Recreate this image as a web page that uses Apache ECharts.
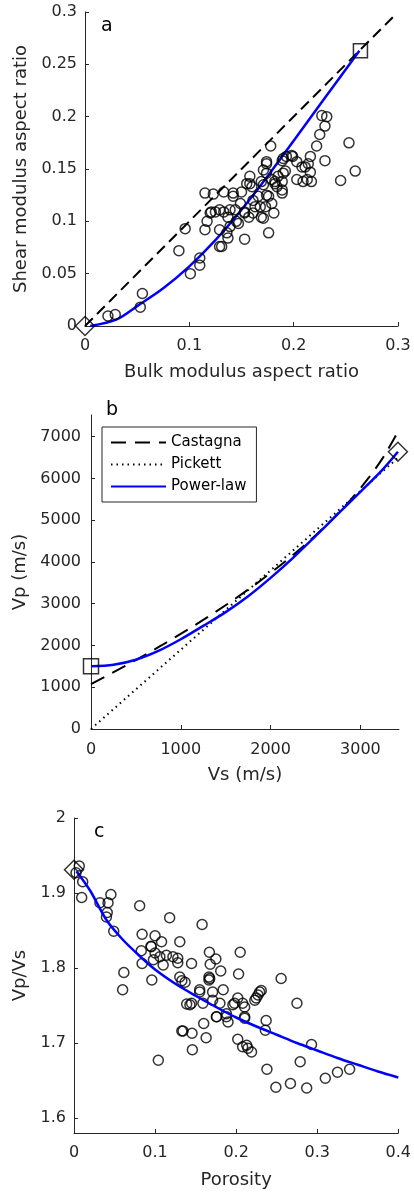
<!DOCTYPE html>
<html><head><meta charset="utf-8">
<script src="https://cdn.jsdelivr.net/npm/echarts@6/dist/echarts.min.js"></script>
<style>html,body{margin:0;padding:0;background:#fff}#c{width:414px;height:1195px}</style>
</head><body><div id="c"></div>
<script>
// ---------- Panel a data ----------
const aPoints = [
[0.2317,0.200],[0.227,0.201],[0.230,0.191],[0.225,0.183],[0.222,0.172],[0.230,0.158],[0.253,0.175],[0.259,0.148],[0.245,0.139],[0.178,0.172],
[0.199,0.162],[0.193,0.162],[0.189,0.158],[0.216,0.162],[0.214,0.155],[0.208,0.152],[0.216,0.147],[0.217,0.138],[0.209,0.138],[0.203,0.140],[0.213,0.140],
[0.174,0.155],[0.171,0.149],[0.174,0.146],[0.190,0.146],[0.189,0.138],[0.182,0.138],[0.158,0.143],[0.158,0.136],[0.142,0.127],[0.133,0.128],[0.115,0.127],[0.123,0.126],
[0.155,0.136],[0.184,0.133],[0.189,0.127],[0.149,0.117],[0.139,0.111],[0.133,0.109],[0.125,0.109],[0.120,0.108],[0.145,0.100],[0.117,0.100],[0.115,0.092],[0.129,0.092],
[0.139,0.095],[0.137,0.084],[0.153,0.083],[0.176,0.089],[0.129,0.076],[0.096,0.093],[0.090,0.072],[0.110,0.065],[0.110,0.058],[0.101,0.050],[0.055,0.031],[0.053,0.018],
[0.029,0.011],[0.022,0.0095],[0.161,0.120],[0.168,0.114],[0.174,0.125],[0.179,0.117],[0.171,0.103],[0.153,0.108],[0.161,0.108],[0.189,0.130],[0.181,0.108],[0.171,0.135],
[0.174,0.157],[0.198,0.163],[0.190,0.160],[0.203,0.157],[0.211,0.152],[0.192,0.148],[0.185,0.143],[0.182,0.136],[0.179,0.140],[0.169,0.138],[0.160,0.133],[0.142,0.124],
[0.150,0.128],[0.166,0.124],[0.176,0.124],[0.173,0.114],[0.163,0.114],[0.153,0.109],[0.144,0.111],[0.137,0.104],[0.169,0.104],[0.157,0.104],[0.147,0.098],[0.136,0.089],
[0.121,0.109],[0.129,0.111],[0.131,0.076]
];
const aDashed = [[0,0],[0.296,0.296]];
const aPowerLaw = [[0.005,0.0],[0.03,0.006],[0.05,0.019],[0.075,0.036],[0.1,0.057],[0.125,0.082],[0.15,0.111],[0.175,0.143],[0.2,0.177],[0.23,0.218],[0.263,0.263]];
const aSquare = [[0.264,0.263]];
const aDiamond = [[0,0]];
const aXTicks = [0,0.1,0.2,0.3];
const aYTicks = [0,0.05,0.1,0.15,0.2,0.25,0.3];

// ---------- Panel b data ----------
const bCastagna = [[0,1076],[371,1500],[783,2000],[1167,2500],[1524,3000],[1854,3500],[2155,4000],[2430,4500],[2677,5000],[2896,5500],[3087,6000],[3252,6500],[3388,7000],[3435,7200]];
const bPickett = [[0,0],[3430,6517]];
const bPowerLaw = [[0,1500],[250,1540],[500,1660],[750,1870],[1000,2150],[1250,2470],[1500,2800],[1750,3180],[2000,3620],[2250,4100],[2500,4620],[2750,5150],[3000,5680],[3250,6220],[3418,6640]];
const bSquare = [[0,1500]];
const bDiamond = [[3418,6640]];
const bXTicks = [0,1000,2000,3000];
const bYTicks = [0,1000,2000,3000,4000,5000,6000,7000];

// ---------- Panel c data ----------
const cPoints = [
[0.0065,1.936],[0.0025,1.927],[0.0107,1.915],[0.0095,1.894],[0.032,1.887],[0.0455,1.898],[0.042,1.887],[0.041,1.874],[0.040,1.868],[0.049,1.849],[0.081,1.883],
[0.118,1.867],[0.158,1.858],[0.084,1.845],[0.100,1.843],[0.108,1.835],[0.1305,1.835],[0.095,1.829],[0.083,1.823],[0.100,1.820],[0.106,1.815],[0.114,1.817],[0.122,1.815],
[0.128,1.813],[0.098,1.811],[0.110,1.804],[0.128,1.807],[0.145,1.806],[0.084,1.806],[0.167,1.821],[0.175,1.812],[0.168,1.805],[0.181,1.796],[0.205,1.821],[0.203,1.792],
[0.2555,1.786],[0.0615,1.794],[0.1305,1.788],[0.096,1.784],[0.133,1.783],[0.137,1.781],[0.1665,1.788],[0.1665,1.784],[0.231,1.770],[0.060,1.771],[0.104,1.677],
[0.133,1.716],[0.1456,1.713],[0.146,1.691],[0.163,1.707],[0.160,1.726],[0.176,1.735],[0.190,1.728],[0.202,1.705],[0.208,1.695],[0.2145,1.693],[0.219,1.688],[0.213,1.697],
[0.237,1.730],[0.236,1.717],[0.238,1.665],[0.249,1.641],[0.267,1.646],[0.287,1.640],[0.279,1.675],[0.293,1.698],[0.275,1.753],[0.310,1.653],[0.325,1.661],[0.340,1.665],
[0.143,1.751],[0.145,1.753],[0.139,1.752],[0.159,1.753],[0.171,1.757],[0.180,1.753],[0.196,1.751],[0.202,1.760],[0.2105,1.748],[0.208,1.753],[0.223,1.757],[0.227,1.764],
[0.155,1.768],[0.171,1.768],[0.2105,1.735],[0.188,1.735],[0.1674,1.786],[0.155,1.771],[0.184,1.771],[0.229,1.768],[0.2248,1.760],[0.198,1.753],[0.188,1.739],[0.2105,1.733],
[0.1756,1.735],[0.1345,1.716],[0.0953,1.8285]
];
const cPowerLaw = [[0.003,1.929],[0.02,1.903],[0.04,1.864],[0.06,1.838],[0.08,1.817],[0.1,1.798],[0.125,1.779],[0.15,1.763],[0.175,1.748],[0.2,1.734],[0.225,1.722],[0.25,1.711],[0.275,1.700],[0.3,1.690],[0.325,1.680],[0.35,1.671],[0.375,1.662],[0.4,1.654]];
const cDiamond = [[0,1.931]];
const cXTicks = [0,0.1,0.2,0.3,0.4];
const cYTicks = [1.6,1.7,1.8,1.9,2];

// ---------- styling ----------
const FONT = 'DejaVu Sans';
const AX = '#262626';
function fmt(v){ return String(+(+v).toFixed(3)); }
function axis(o){
  return Object.assign({
    type:'value', scale:false,
    axisLine:{show:true, onZero:false, lineStyle:{color:AX, width:1}},
    axisTick:{show:true, inside:true, length:4, lineStyle:{color:AX, width:1}, customValues:o.ticks},
    axisLabel:{color:AX, fontSize:16, fontFamily:FONT, formatter:fmt, customValues:o.ticks, margin:o.lm},
    splitLine:{show:false},
    nameLocation:'middle',
    nameTextStyle:{color:AX, fontSize:18, fontFamily:FONT}
  }, o.extra);
}
function scatter(data, xi, symbol, size, z){
  return {type:'scatter', xAxisIndex:xi, yAxisIndex:xi, data:data, symbol:symbol, symbolSize:size,
    itemStyle:{color:'rgba(0,0,0,0)', borderColor:'#000', borderWidth:1.5}, clip:false, z:z||3, silent:true};
}
function line(name, data, xi, color, width, type, z){
  return {type:'line', name:name, xAxisIndex:xi, yAxisIndex:xi, data:data, symbol:'none', smooth:data.length>2?0.3:false,
    lineStyle:{color:color, width:width, type:type}, itemStyle:{color:color}, z:z||2, silent:true};
}

const chart = echarts.init(document.getElementById('c'), null, {renderer:'canvas'});
chart.setOption({
  animation:false,
  backgroundColor:'#fff',
  grid:[
    {left:85, top:12, width:313, height:314},
    {left:91, top:415, width:308, height:314},
    {left:74, top:818, width:325, height:315}
  ],
  xAxis:[
    axis({ticks:aXTicks, lm:12, extra:{gridIndex:0, min:0, max:0.3, name:'Bulk modulus aspect ratio', nameGap:37}}),
    axis({ticks:bXTicks, lm:13, extra:{gridIndex:1, min:0, max:3430, name:'Vs (m/s)', nameGap:37}}),
    axis({ticks:cXTicks, lm:12, extra:{gridIndex:2, min:0, max:0.4, name:'Porosity', nameGap:38}})
  ],
  yAxis:[
    axis({ticks:aYTicks, lm:8, extra:{gridIndex:0, min:0, max:0.3, name:'Shear modulus aspect ratio', nameGap:54}}),
    axis({ticks:bYTicks, lm:10, extra:{gridIndex:1, min:0, max:7520, name:'Vp (m/s)', nameGap:60}}),
    axis({ticks:cYTicks, lm:8, extra:{gridIndex:2, min:1.58, max:2, name:'Vp/Vs', nameGap:43}})
  ],
  legend:{
    data:['Castagna','Pickett','Power-law'],
    orient:'vertical', left:102, top:427,
    itemWidth:55, itemHeight:14, itemGap:7,
    padding:[8,10,8,8],
    borderColor:AX, borderWidth:1, backgroundColor:'#fff',
    itemStyle:{color:'rgba(0,0,0,0)', borderWidth:0, borderColor:'rgba(0,0,0,0)', opacity:0},
    textStyle:{color:'#000', fontSize:15, fontFamily:FONT},
    selectedMode:false
  },
  graphic:[
    {type:'text', left:101, top:17, style:{text:'a', fontSize:19, fontFamily:FONT, fill:'#000'}},
    {type:'text', left:106, top:401, style:{text:'b', fontSize:19, fontFamily:FONT, fill:'#000'}},
    {type:'text', left:94, top:823, style:{text:'c', fontSize:19, fontFamily:FONT, fill:'#000'}}
  ],
  series:[
    line('', aDashed, 0, '#000', 2, [11,6]),
    line('', aPowerLaw, 0, '#0000ff', 2.5, 'solid'),
    scatter(aPoints, 0, 'circle', 10),
    scatter(aSquare, 0, 'rect', 14, 5),
    scatter(aDiamond, 0, 'diamond', 19, 5),

    line('Castagna', bCastagna, 1, '#000', 2, [15,9]),
    line('Pickett', bPickett, 1, '#000', 2, [1.5,4]),
    line('Power-law', bPowerLaw, 1, '#0000ff', 2.5, 'solid'),
    scatter(bSquare, 1, 'rect', 15, 5),
    scatter(bDiamond, 1, 'diamond', 19, 5),

    line('', cPowerLaw, 2, '#0000ff', 2.5, 'solid', 4),
    scatter(cPoints, 2, 'circle', 10),
    scatter(cDiamond, 2, 'diamond', 19, 5)
  ]
});
</script></body></html>
